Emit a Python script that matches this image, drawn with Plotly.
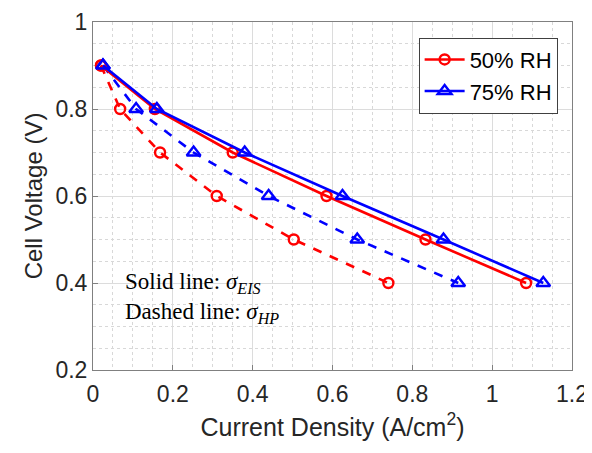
import plotly.graph_objects as go

voltage = [0.9, 0.8, 0.7, 0.6, 0.5, 0.4]
j_eis_50 = [0.02, 0.155, 0.35, 0.585, 0.833, 1.085]
j_eis_75 = [0.025, 0.16, 0.38, 0.625, 0.878, 1.128]
j_hp_50 = [0.02, 0.068, 0.168, 0.31, 0.503, 0.74]
j_hp_75 = [0.025, 0.108, 0.252, 0.44, 0.662, 0.915]

RED = "#ff0000"
BLUE = "#0000ff"

fig = go.Figure()

def add(x, color, symbol, size, dash, name, show):
    fig.add_trace(go.Scatter(
        x=x, y=voltage, mode="lines+markers", name=name, showlegend=show,
        line=dict(color=color, width=2.6, dash=dash),
        marker=dict(symbol=symbol, size=size, color=color,
                    line=dict(color=color, width=2.4)),
    ))

add(j_hp_50, RED, "circle-open", 10, "dash", "50% RH", False)
add(j_hp_75, BLUE, "triangle-up-open", 12, "dash", "75% RH", False)
add(j_eis_50, RED, "circle-open", 10, "solid", "50% RH", True)
add(j_eis_75, BLUE, "triangle-up-open", 12, "solid", "75% RH", True)

axis_common = dict(
    showline=True, linecolor="#808080", linewidth=1, mirror=True,
    ticks="inside", ticklen=5, tickcolor="#808080",
    showgrid=True, gridcolor="#dcdcdc", gridwidth=1,
    zeroline=False, automargin=False,
    tickfont=dict(family="Liberation Sans, Arial", size=23, color="#262626"),
)

fig.update_xaxes(
    range=[0, 1.2], tickvals=[0, 0.2, 0.4, 0.6, 0.8, 1, 1.2],
    ticktext=["0", "0.2", "0.4", "0.6", "0.8", "1", "1.2"],
    minor=dict(dtick=0.05, showgrid=True, gridcolor="#d8d8d8", griddash="dot", ticks=""),
    ticklabelstandoff=3,
    title=dict(text="Current Density (A/cm<sup>2</sup>)",
               font=dict(family="Liberation Sans, Arial", size=25, color="#262626"),
               standoff=12),
    **axis_common,
)
fig.update_yaxes(
    range=[0.2, 1], tickvals=[0.2, 0.4, 0.6, 0.8, 1],
    ticktext=["0.2", "0.4", "0.6", "0.8", "1"],
    minor=dict(dtick=0.05, showgrid=True, gridcolor="#d8d8d8", griddash="dot", ticks=""),
    title=dict(text="Cell Voltage (V)",
               font=dict(family="Liberation Sans, Arial", size=24, color="#262626"),
               standoff=6),
    **axis_common,
)

fig.add_annotation(
    xref="paper", yref="paper", x=0.063, y=0.208, xanchor="left", yanchor="middle",
    text="Solid line: <i>σ</i><sub><i>EIS</i></sub><br>Dashed line: <i>σ</i><sub><i>HP</i></sub>",
    showarrow=False, align="left",
    font=dict(family="Liberation Serif, DejaVu Serif", size=23, color="#000000"),
)

fig.update_layout(
    width=584, height=445,
    margin=dict(l=85, r=20, t=14, b=83),
    paper_bgcolor="white", plot_bgcolor="white",
    legend=dict(
        x=0.97, y=0.955, xanchor="right", yanchor="top",
        bgcolor="white", bordercolor="#404040", borderwidth=1,
        font=dict(family="Liberation Sans, Arial", size=22, color="#000000"),
        tracegroupgap=0, itemwidth=40,
    ),
)

fig.write_html("out.html")
